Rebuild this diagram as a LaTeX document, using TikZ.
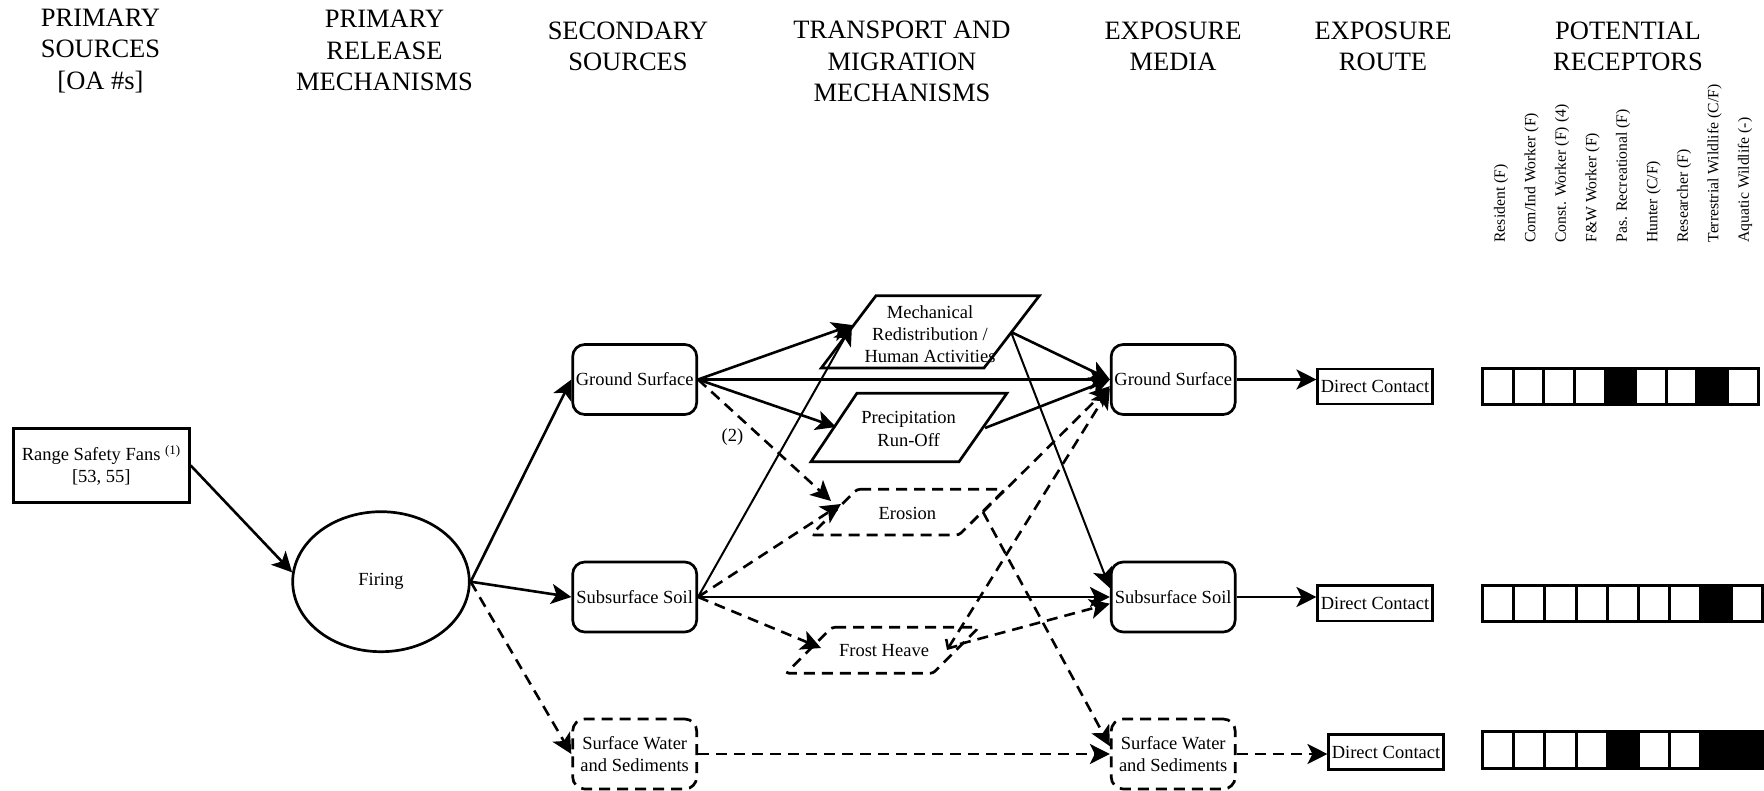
\documentclass[tikz,border=0pt]{standalone}
\usepackage{fontspec}
\setmainfont{Liberation Serif}
\usetikzlibrary{arrows.meta,shapes.geometric,calc}
\begin{document}
\begin{tikzpicture}[x=1pt,y=-1pt,
  hdr/.style={font=\fontsize{26.5}{31.5}\selectfont, align=center, inner sep=0pt},
  body/.style={font=\fontsize{18.5}{22.3}\selectfont, align=center},
  rlabel/.style={font=\fontsize{15.7}{18}\selectfont, rotate=90, anchor=west, inner sep=0pt},
  rbox/.style={draw, line width=2.7pt, rounded corners=12pt, minimum width=124pt,
               minimum height=70pt, inner sep=0pt, body},
  dashpat/.style={dash pattern=on 11pt off 7pt},
  dbox/.style={rbox, dashpat},
  plainbox/.style={draw, line width=2.8pt, inner sep=0pt, body},
  pgram/.style={draw, line width=2.7pt, line join=miter},
  dpgram/.style={pgram, dashpat, rounded corners=3pt},
  conn/.style={line width=2.6pt, -{Stealth[length=20pt,width=20pt,inset=5pt]}},
  thinconn/.style={conn, line width=2pt},
  dconn/.style={conn, dashpat},
  cell/.style={draw, line width=3pt},
]
\useasboundingbox (0,0) rectangle (1764,791);

% column headings
\node[hdr] (h1) at (100.5,50.6) {PRIMARY\\SOURCES\\{[OA \#s]}};
\node[hdr] (h2) at (384.5,50.6) {PRIMARY\\RELEASE\\MECHANISMS};
\node[hdr] (h3) at (628,46.2) {SECONDARY\\SOURCES};
\node[hdr] (h4) at (902,61.7) {TRANSPORT AND\\MIGRATION\\MECHANISMS};
\node[hdr] (h5) at (1173,46.2) {EXPOSURE\\MEDIA};
\node[hdr] (h6) at (1383,46.2) {EXPOSURE\\ROUTE};
\node[hdr] (h7) at (1628,46.2) {POTENTIAL\\RECEPTORS};

% receptor labels
\node[rlabel] (rc1) at (1501,242.7) {Resident (F)};
\node[rlabel] (rc2) at (1531.5,242.7) {Com/Ind Worker (F)};
\node[rlabel] (rc3) at (1562,242.7) {Const. Worker (F) (4)};
\node[rlabel] (rc4) at (1592.5,242.7) {F\&W Worker (F)};
\node[rlabel] (rc5) at (1623,242.7) {Pas. Recreational (F)};
\node[rlabel] (rc6) at (1653.5,242.7) {Hunter (C/F)};
\node[rlabel] (rc7) at (1684,242.7) {Researcher (F)};
\node[rlabel] (rc8) at (1714.5,242.7) {Terrestrial Wildlife (C/F)};
\node[rlabel] (rc9) at (1745,242.7) {Aquatic Wildlife (-)};

% primary source and release mechanism
\node[plainbox, minimum width=176pt, minimum height=73.6pt] (rsf) at (101.3,465.5)
  {Range Safety Fans \textsuperscript{(1)}\\{[53, 55]}};
\node[ellipse, draw, line width=2.7pt, minimum width=176.6pt, minimum height=140pt,
      inner sep=0pt, body] (firing) at (381,581.7) {Firing};

% secondary sources
\node[rbox] (gs1) at (634.7,379.5) {Ground Surface};
\node[rbox] (ss1) at (634.7,597) {Subsurface Soil};
\node[dbox] (sw1) at (634.7,754) {Surface Water\\and Sediments};

% transport and migration mechanisms
\draw[pgram] (876,295.7) -- (1039.4,295.7) -- (984,368) -- (821.3,368) -- cycle;
\node[body] (mech) at (930,334) {Mechanical\\Redistribution /\\Human Activities};
\draw[pgram] (856.9,393.3) -- (1006.9,393.3) -- (959,461.7) -- (811,461.7) -- cycle;
\node[body] (prec) at (908.6,429) {Precipitation\\Run-Off};
\draw[dpgram] (857,489.3) -- (1005,489.3) -- (959,535) -- (811,535) -- cycle;
\node[body] (ero) at (907.4,513) {Erosion};
\draw[dpgram] (832,627.3) -- (979,627.3) -- (933,673.3) -- (786,673.3) -- cycle;
\node[body] (frost) at (884,651) {Frost Heave};

\coordinate (mechW) at (852,325);
\coordinate (mechE) at (1011,332);
\coordinate (precW) at (836,427);
\coordinate (precE) at (985,428);
\coordinate (eroWa) at (831,501);
\coordinate (eroWb) at (841,504);
\coordinate (eroE) at (983,512);
\coordinate (frostW) at (821,648);
\coordinate (frostEa) at (947,650);
\coordinate (frostEb) at (960,644);

% exposure media
\node[rbox] (gs2) at (1173.2,379.5) {Ground Surface};
\node[rbox] (ss2) at (1173.2,597) {Subsurface Soil};
\node[dbox] (sw2) at (1173.2,754) {Surface Water\\and Sediments};

% exposure routes
\node[plainbox, minimum width=114.3pt, minimum height=35pt] (dc1) at (1375,386.5) {Direct Contact};
\node[plainbox, minimum width=114.3pt, minimum height=35.3pt] (dc2) at (1375,603.3) {Direct Contact};
\node[plainbox, minimum width=114.3pt, minimum height=35.7pt] (dc3) at (1386,752) {Direct Contact};

% receptor grids
\foreach \i in {4,7}
  \fill ({1482.7+30.6*\i},368.3) rectangle ++(30.6,35.7);
\foreach \i in {0,...,8}
  \draw[cell] ({1482.7+30.6*\i},368.3) rectangle ++(30.6,35.7);
\foreach \i in {7}
  \fill ({1482.7+31.1*\i},585.7) rectangle ++(31.1,36);
\foreach \i in {0,...,8}
  \draw[cell] ({1482.7+31.1*\i},585.7) rectangle ++(31.1,36);
\foreach \i in {4,7,8}
  \fill ({1482.7+31.1*\i},731.7) rectangle ++(31.1,36.6);
\foreach \i in {0,...,8}
  \draw[cell] ({1482.7+31.1*\i},731.7) rectangle ++(31.1,36.6);

% connectors
\draw[conn] (rsf.east) -- (firing.174);
\draw[conn] (firing.east) -- (gs1.west);
\draw[conn] (firing.east) -- (ss1.west);
\draw[dconn] (firing.east) -- (sw1.west);

\draw[conn] (gs1.east) -- (mechW);
\draw[thinconn] (ss1.east) -- (mechW);
\draw[conn] (gs1.east) -- (gs2.west);
\draw[conn] (gs1.east) -- (precW);
\draw[dconn] (gs1.east) -- (eroWa);
\node[body] (note2) at (732.5,436.7) {(2)};
\draw[dconn] (ss1.east) -- (eroWb);
\draw[conn] (ss1.east) -- (ss2.west);
\draw[dconn] (ss1.east) -- (frostW);
\draw[dconn] (sw1.east) -- (sw2.west);

\draw[conn] (mechE) -- (gs2.west);
\draw[thinconn] (mechE) -- (ss2.172);
\draw[conn] (precE) -- (gs2.west);
\draw[dconn] (eroE) -- (gs2.186);
\draw[dconn] (eroE) -- (sw2.173);
\draw[dconn, {Straight Barb[length=7pt,width=13pt]}-{Stealth[length=20pt,width=20pt,inset=5pt]}]
  (frostEa) -- (gs2.188);
\draw[dconn] (frostEb) -- (ss2.186);

\draw[conn] (gs2.east) -- (gs2.east -| dc1.west);
\draw[conn] (ss2.east) -- (ss2.east -| dc2.west);
\draw[dconn] (sw2.east) -- (sw2.east -| dc3.west);
\end{tikzpicture}
\end{document}
